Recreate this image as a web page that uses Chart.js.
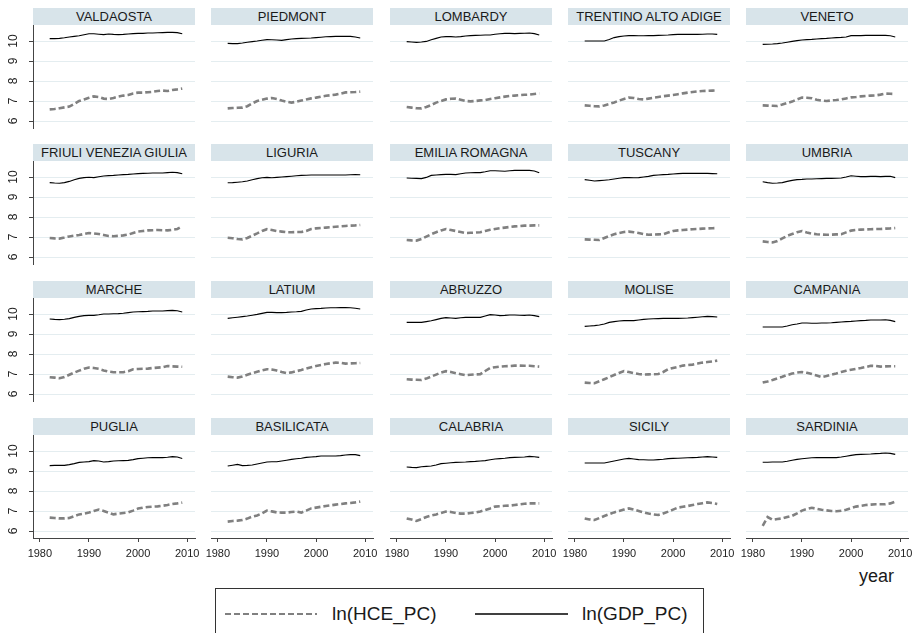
<!DOCTYPE html>
<html>
<head>
<meta charset="utf-8">
<script src="https://cdn.jsdelivr.net/npm/chart.js@4"></script>
<style>
body { margin: 0; background: #fff; font-family: "Liberation Sans", Arial, sans-serif; }
#wrap { position: relative; width: 917px; height: 633px; overflow: hidden; }
.hdr { position: absolute; height: 17px; line-height: 17px; background: #d8e4ea; color: #1a1a1a;
       font-size: 13px; text-align: center; white-space: nowrap; }
canvas.p { position: absolute; }
#legend { position: absolute; left: 215px; top: 588px; width: 487px; height: 60px; border: 1px solid #333; }
#legend span { position: absolute; top: 14px; font-size: 19px; color: #1a1a1a; }
#legend svg { position: absolute; left: 0; top: 0; }
#year { position: absolute; left: 859px; top: 566px; font-size: 18px; color: #1a1a1a; }
</style>
</head>
<body>
<div id="wrap">
  <div id="year">year</div>
  <div id="legend">
    <svg width="487" height="60">
      <line x1="9" y1="25" x2="101" y2="25" stroke="#808080" stroke-width="2.2" stroke-dasharray="6,3"/>
      <line x1="259" y1="25" x2="352" y2="25" stroke="#000" stroke-width="1.6"/>
    </svg>
    <span style="left:116px">ln(HCE_PC)</span>
    <span style="left:366px">ln(GDP_PC)</span>
  </div>
</div>
<script>
const years = [1982,1983,1984,1985,1986,1987,1988,1989,1990,1991,1992,1993,1994,1995,
               1996,1997,1998,1999,2000,2001,2002,2003,2004,2005,2006,2007,2008,2009];
const xTicks = [1980, 1990, 2000, 2010];
const yTicks = [6, 7, 8, 9, 10];

const gdpValdaosta = [10.12,10.12,10.13,10.16,10.2,10.23,10.26,10.31,10.36,10.36,10.34,10.32,10.35,10.33,10.32,10.33,10.35,10.37,10.38,10.38,10.4,10.4,10.41,10.42,10.43,10.43,10.42,10.36];
const hceValdaosta = [6.58,6.6,6.64,6.68,6.72,6.85,7.0,7.08,7.16,7.23,7.2,7.12,7.1,7.15,7.22,7.27,7.3,7.38,7.42,7.42,7.44,7.46,7.5,7.52,7.5,7.55,7.58,7.62];
const gdpPiedmont = [9.88,9.87,9.87,9.9,9.94,9.97,10.0,10.04,10.07,10.06,10.05,10.03,10.07,10.1,10.12,10.13,10.14,10.15,10.17,10.19,10.21,10.22,10.23,10.23,10.23,10.23,10.2,10.15];
const hcePiedmont = [6.63,6.65,6.66,6.67,6.74,6.88,7.0,7.06,7.12,7.15,7.1,7.02,6.96,6.92,6.96,7.02,7.08,7.13,7.17,7.22,7.26,7.29,7.32,7.37,7.43,7.44,7.45,7.47];
const gdpLombardy = [9.97,9.95,9.93,9.95,9.98,10.06,10.13,10.2,10.22,10.22,10.2,10.22,10.25,10.27,10.28,10.29,10.3,10.3,10.34,10.36,10.38,10.38,10.37,10.38,10.39,10.4,10.37,10.3];
const hceLombardy = [6.7,6.67,6.64,6.63,6.7,6.8,6.92,7.0,7.08,7.11,7.12,7.06,7.0,6.98,7.0,7.03,7.05,7.1,7.14,7.18,7.22,7.25,7.27,7.29,7.31,7.32,7.35,7.38];
const gdpTrentino = [10.0,10.0,10.0,10.0,10.0,10.08,10.17,10.22,10.25,10.27,10.27,10.26,10.26,10.27,10.27,10.28,10.29,10.3,10.32,10.33,10.33,10.33,10.33,10.33,10.34,10.35,10.35,10.33];
const hceTrentino = [6.78,6.76,6.74,6.73,6.78,6.85,6.93,7.02,7.1,7.17,7.15,7.1,7.08,7.12,7.16,7.2,7.24,7.27,7.3,7.34,7.38,7.42,7.45,7.48,7.5,7.51,7.52,7.53];
const gdpVeneto = [9.83,9.84,9.85,9.87,9.9,9.94,9.98,10.02,10.05,10.07,10.08,10.1,10.12,10.13,10.15,10.17,10.18,10.2,10.27,10.27,10.27,10.28,10.28,10.28,10.28,10.28,10.26,10.2];
const hceVeneto = [6.78,6.77,6.76,6.75,6.82,6.9,6.97,7.08,7.17,7.16,7.14,7.06,7.02,7.0,7.03,7.05,7.08,7.13,7.18,7.2,7.23,7.25,7.27,7.28,7.32,7.37,7.36,7.35];
const gdpFriuli = [9.72,9.7,9.69,9.72,9.78,9.86,9.93,9.97,9.99,9.97,10.01,10.05,10.07,10.08,10.1,10.12,10.13,10.15,10.17,10.18,10.19,10.2,10.2,10.2,10.22,10.24,10.22,10.16];
const hceFriuli = [6.95,6.93,6.92,6.97,7.03,7.07,7.1,7.15,7.2,7.18,7.15,7.1,7.05,7.04,7.06,7.08,7.12,7.2,7.27,7.3,7.33,7.34,7.35,7.34,7.33,7.36,7.4,7.53];
const gdpLiguria = [9.71,9.72,9.74,9.76,9.8,9.86,9.92,9.96,9.98,9.96,9.98,10.0,10.02,10.04,10.06,10.08,10.09,10.1,10.1,10.1,10.1,10.1,10.1,10.1,10.1,10.11,10.12,10.11];
const hceLiguria = [6.96,6.94,6.9,6.88,6.95,7.07,7.18,7.3,7.39,7.35,7.3,7.27,7.24,7.24,7.25,7.25,7.3,7.4,7.43,7.45,7.47,7.49,7.51,7.53,7.55,7.57,7.58,7.6];
const gdpEmilia = [9.95,9.94,9.93,9.92,9.98,10.08,10.1,10.12,10.13,10.13,10.12,10.16,10.2,10.21,10.22,10.22,10.26,10.31,10.31,10.3,10.29,10.31,10.33,10.34,10.33,10.33,10.3,10.21];
const hceEmilia = [6.85,6.83,6.82,6.9,7.02,7.14,7.24,7.33,7.4,7.35,7.3,7.25,7.2,7.21,7.22,7.24,7.3,7.36,7.4,7.44,7.47,7.5,7.53,7.55,7.57,7.57,7.58,7.58];
const gdpTuscany = [9.87,9.84,9.8,9.82,9.84,9.86,9.9,9.94,9.97,9.97,9.96,9.97,10.0,10.03,10.08,10.1,10.12,10.13,10.15,10.17,10.18,10.18,10.18,10.18,10.18,10.18,10.17,10.16];
const hceTuscany = [6.88,6.87,6.86,6.85,6.95,7.05,7.14,7.2,7.25,7.27,7.24,7.2,7.15,7.11,7.12,7.13,7.14,7.22,7.3,7.33,7.35,7.37,7.39,7.4,7.42,7.43,7.44,7.45];
const gdpUmbria = [9.76,9.72,9.69,9.7,9.72,9.78,9.83,9.87,9.88,9.9,9.9,9.91,9.92,9.93,9.93,9.94,9.95,10.0,10.06,10.04,10.02,10.02,10.03,10.03,10.02,10.03,10.04,9.97];
const hceUmbria = [6.78,6.75,6.73,6.8,6.93,7.06,7.15,7.24,7.3,7.23,7.17,7.14,7.12,7.11,7.12,7.13,7.14,7.23,7.32,7.35,7.37,7.38,7.39,7.4,7.4,7.42,7.43,7.45];
const gdpMarche = [9.75,9.73,9.72,9.74,9.77,9.83,9.88,9.92,9.93,9.93,9.96,10.0,10.0,10.01,10.02,10.04,10.07,10.1,10.11,10.12,10.13,10.15,10.15,10.15,10.17,10.18,10.16,10.1];
const hceMarche = [6.84,6.82,6.79,6.85,6.96,7.07,7.17,7.26,7.32,7.3,7.26,7.18,7.12,7.09,7.09,7.09,7.14,7.24,7.25,7.26,7.27,7.3,7.32,7.34,7.4,7.38,7.37,7.36];
const gdpLatium = [9.78,9.81,9.84,9.87,9.9,9.94,9.98,10.03,10.08,10.08,10.07,10.07,10.08,10.1,10.11,10.13,10.2,10.25,10.27,10.28,10.3,10.31,10.31,10.32,10.32,10.31,10.29,10.25];
const hceLatium = [6.87,6.84,6.82,6.88,6.96,7.04,7.11,7.18,7.24,7.22,7.17,7.1,7.04,7.08,7.14,7.2,7.27,7.34,7.4,7.45,7.5,7.54,7.57,7.56,7.52,7.53,7.54,7.55];
const gdpAbruzzo = [9.58,9.58,9.58,9.58,9.62,9.66,9.72,9.78,9.82,9.8,9.78,9.81,9.83,9.83,9.83,9.83,9.9,9.97,9.95,9.92,9.93,9.95,9.95,9.94,9.93,9.95,9.92,9.87];
const hceAbruzzo = [6.74,6.72,6.71,6.7,6.77,6.87,6.97,7.07,7.14,7.1,7.04,6.99,6.94,6.96,6.98,6.99,7.15,7.3,7.34,7.37,7.39,7.4,7.42,7.42,7.41,7.41,7.39,7.37];
const gdpMolise = [9.38,9.4,9.42,9.45,9.5,9.58,9.62,9.65,9.67,9.67,9.67,9.7,9.73,9.75,9.76,9.77,9.78,9.78,9.78,9.78,9.79,9.8,9.82,9.84,9.86,9.88,9.87,9.85];
const hceMolise = [6.57,6.55,6.54,6.64,6.74,6.84,6.95,7.05,7.15,7.1,7.04,7.0,6.97,6.98,6.99,7.0,7.1,7.24,7.3,7.36,7.42,7.45,7.47,7.52,7.57,7.6,7.63,7.67];
const gdpCampania = [9.35,9.35,9.35,9.35,9.35,9.4,9.46,9.5,9.55,9.55,9.54,9.54,9.55,9.55,9.56,9.58,9.6,9.62,9.63,9.65,9.67,9.68,9.7,9.7,9.7,9.71,9.68,9.62];
const hceCampania = [6.57,6.63,6.7,6.78,6.86,6.95,7.02,7.07,7.1,7.06,7.0,6.92,6.84,6.9,6.97,7.03,7.1,7.16,7.21,7.26,7.3,7.35,7.41,7.4,7.37,7.38,7.39,7.39];
const gdpPuglia = [9.27,9.28,9.28,9.28,9.32,9.37,9.43,9.45,9.47,9.52,9.5,9.45,9.47,9.5,9.51,9.52,9.53,9.57,9.62,9.64,9.66,9.67,9.67,9.67,9.69,9.72,9.7,9.62];
const hcePuglia = [6.67,6.65,6.63,6.63,6.65,6.74,6.83,6.87,6.92,7.0,7.07,7.0,6.92,6.83,6.87,6.9,6.93,7.02,7.12,7.17,7.2,7.22,7.23,7.26,7.3,7.35,7.38,7.42];
const gdpBasilicata = [9.25,9.29,9.33,9.27,9.28,9.3,9.35,9.4,9.45,9.46,9.46,9.5,9.54,9.58,9.61,9.64,9.68,9.7,9.72,9.75,9.75,9.75,9.75,9.77,9.8,9.82,9.82,9.77];
const hceBasilicata = [6.47,6.5,6.52,6.55,6.62,6.72,6.78,6.88,7.02,6.98,6.93,6.92,6.92,6.95,6.97,6.92,7.02,7.13,7.17,7.21,7.25,7.28,7.32,7.35,7.38,7.4,7.43,7.47];
const gdpCalabria = [9.2,9.18,9.17,9.21,9.23,9.25,9.3,9.37,9.39,9.41,9.43,9.44,9.45,9.47,9.48,9.5,9.52,9.56,9.6,9.62,9.64,9.67,9.68,9.69,9.7,9.73,9.71,9.68];
const hceCalabria = [6.63,6.57,6.5,6.6,6.7,6.77,6.83,6.9,6.97,6.95,6.9,6.87,6.87,6.9,6.93,6.98,7.05,7.13,7.22,7.24,7.26,7.27,7.3,7.33,7.36,7.38,7.38,7.38];
const gdpSicily = [9.4,9.4,9.4,9.4,9.4,9.45,9.5,9.55,9.6,9.63,9.6,9.57,9.56,9.55,9.55,9.57,9.59,9.62,9.63,9.64,9.65,9.66,9.67,9.68,9.7,9.72,9.7,9.68];
const hceSicily = [6.63,6.58,6.55,6.65,6.75,6.84,6.93,7.0,7.07,7.13,7.07,7.0,6.93,6.87,6.83,6.8,6.88,6.97,7.07,7.17,7.21,7.25,7.3,7.35,7.39,7.43,7.4,7.35];
const gdpSardinia = [9.44,9.44,9.45,9.45,9.45,9.49,9.54,9.58,9.61,9.64,9.66,9.67,9.67,9.67,9.67,9.67,9.7,9.74,9.78,9.82,9.83,9.84,9.85,9.87,9.88,9.9,9.88,9.83];
const hceSardinia = [6.26,6.7,6.56,6.6,6.63,6.7,6.76,6.88,7.02,7.1,7.16,7.11,7.06,7.03,7.0,6.99,7.01,7.06,7.14,7.22,7.26,7.3,7.32,7.34,7.34,7.34,7.38,7.47];

const panels = [
  ['VALDAOSTA', hceValdaosta, gdpValdaosta],
  ['PIEDMONT', hcePiedmont, gdpPiedmont],
  ['LOMBARDY', hceLombardy, gdpLombardy],
  ['TRENTINO ALTO ADIGE', hceTrentino, gdpTrentino],
  ['VENETO', hceVeneto, gdpVeneto],
  ['FRIULI VENEZIA GIULIA', hceFriuli, gdpFriuli],
  ['LIGURIA', hceLiguria, gdpLiguria],
  ['EMILIA ROMAGNA', hceEmilia, gdpEmilia],
  ['TUSCANY', hceTuscany, gdpTuscany],
  ['UMBRIA', hceUmbria, gdpUmbria],
  ['MARCHE', hceMarche, gdpMarche],
  ['LATIUM', hceLatium, gdpLatium],
  ['ABRUZZO', hceAbruzzo, gdpAbruzzo],
  ['MOLISE', hceMolise, gdpMolise],
  ['CAMPANIA', hceCampania, gdpCampania],
  ['PUGLIA', hcePuglia, gdpPuglia],
  ['BASILICATA', hceBasilicata, gdpBasilicata],
  ['CALABRIA', hceCalabria, gdpCalabria],
  ['SICILY', hceSicily, gdpSicily],
  ['SARDINIA', hceSardinia, gdpSardinia]
];

const fontFamily = '"Liberation Sans", Arial, sans-serif';
const wrap = document.getElementById('wrap');

// keep every panel's plot area the same size, whatever labels it shows
function noPadding(s) {
  s.paddingTop = 0; s.paddingBottom = 0; s.paddingLeft = 0; s.paddingRight = 0;
}

panels.forEach(function (p, i) {
  const r = Math.floor(i / 5), c = i % 5;
  const firstCol = c === 0, lastRow = r === 3;
  const plotLeft = Math.round(33 + c * 178.25);
  const plotTop = Math.round(24.7 + r * 136.7);

  const hdr = document.createElement('div');
  hdr.className = 'hdr';
  hdr.style.left = plotLeft + 'px';
  hdr.style.top = (plotTop - 17) + 'px';
  hdr.style.width = '162px';
  hdr.textContent = p[0];
  wrap.appendChild(hdr);

  const cv = document.createElement('canvas');
  cv.className = 'p';
  cv.width = 33 + 162 + 12;
  cv.height = 103 + 25;
  cv.style.left = (plotLeft - 33) + 'px';
  cv.style.top = plotTop + 'px';
  wrap.appendChild(cv);

  new Chart(cv.getContext('2d'), {
    type: 'line',
    data: {
      datasets: [{
        label: 'ln(HCE_PC)',
        data: years.map((y, k) => ({ x: y, y: p[1][k] })),
        borderColor: '#808080',
        borderWidth: 2.6,
        borderDash: [6, 3],
        pointRadius: 0,
        fill: false
      }, {
        label: 'ln(GDP_PC)',
        data: years.map((y, k) => ({ x: y, y: p[2][k] })),
        borderColor: '#000000',
        borderWidth: 1.1,
        pointRadius: 0,
        fill: false
      }]
    },
    options: {
      responsive: false,
      animation: false,
      events: [],
      layout: { padding: { left: 0, right: 12, top: 0, bottom: 0 }, autoPadding: false },
      plugins: { legend: { display: false }, tooltip: { enabled: false } },
      scales: {
        x: {
          type: 'linear', min: 1978.6, max: 2011.6,
          afterBuildTicks: s => { s.ticks = xTicks.map(v => ({ value: v })); },
          afterFit: s => { s.height = 25; noPadding(s); },
          grid: { display: lastRow, drawOnChartArea: false, drawTicks: true, tickLength: 4, color: '#444' },
          border: { display: lastRow, color: '#444', width: 1 },
          ticks: { display: lastRow, maxRotation: 0, minRotation: 0, padding: 5,
                   color: '#222', font: { size: 11, family: fontFamily },
                   callback: v => String(v) }
        },
        y: {
          min: 5.65, max: 10.8,
          afterBuildTicks: s => { s.ticks = yTicks.map(v => ({ value: v })); },
          afterFit: s => { s.width = 33; noPadding(s); },
          grid: { color: '#e4edf0', lineWidth: 1, drawTicks: firstCol, tickLength: 4, tickColor: '#444' },
          border: { display: firstCol, color: '#444', width: 1 },
          ticks: { display: firstCol, minRotation: 90, maxRotation: 90, crossAlign: 'center', padding: 9,
                   color: '#222', font: { size: 12, family: fontFamily } }
        }
      }
    }
  });
});
</script>
</body>
</html>
